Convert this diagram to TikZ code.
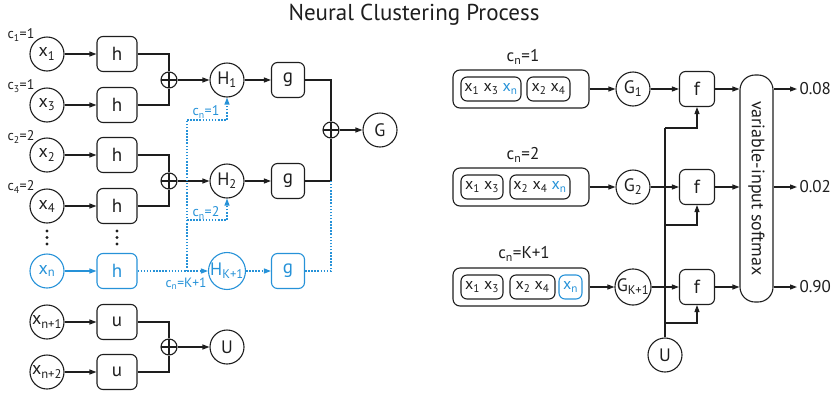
\documentclass[tikz,border=0pt]{standalone}
\usepackage{fontspec}
\setmainfont{PT Sans}
\usetikzlibrary{arrows.meta,calc}
\definecolor{ink}{RGB}{30,30,30}
\definecolor{ncpblue}{RGB}{38,146,216}
\newcommand\sbs[1]{\textsubscript{#1}}
\newcommand\fs[1]{\fontsize{#1}{#1}\selectfont}

\begin{document}
\begin{tikzpicture}[x=1pt,y=-1pt,line width=1.1pt,color=ink,
  circ/.style={circle,draw,minimum size=34pt,inner sep=0pt,font=\fs{18}},
  fbox/.style={draw,rounded corners=6pt,minimum width=40pt,minimum height=35pt,inner sep=0pt,font=\fs{19}},
  gbox/.style={fbox,minimum width=33pt},
  plus/.style={circle,draw,minimum size=16pt,inner sep=0pt,
    path picture={\draw (path picture bounding box.north) -- (path picture bounding box.south)
                        (path picture bounding box.west) -- (path picture bounding box.east);}},
  arr/.style={-{Triangle[length=7pt,width=5pt]}},
  bdot/.style={ncpblue,line width=1.3pt,dash pattern=on 1.5pt off 1.6pt},
  clab/.style={font=\fs{14},inner sep=0pt},
  obox/.style={draw,rounded corners=7pt,minimum width=136pt,minimum height=38pt,inner sep=0pt},
  ibox/.style={draw,rounded corners=6pt,minimum height=24pt,inner sep=0pt,font=\fs{16}},
  outlab/.style={anchor=west,inner sep=2pt,font=\fs{17}}]

\useasboundingbox (0,0) rectangle (834,394);

% title
\node[font=\fs{23}] (title) at (414,15) {Neural Clustering Process};

% ---------- left: encoding the points ----------
\node[circ] (x1) at (47,54) {x\sbs{1}};
\node[circ] (x3) at (47,105) {x\sbs{3}};
\node[circ] (x2) at (47,155) {x\sbs{2}};
\node[circ] (x4) at (47,206) {x\sbs{4}};
\node[circ,ncpblue] (xn) at (47,271) {x\sbs{n}};
\node[circ] (xa) at (47,322) {x\sbs{n+1}};
\node[circ] (xb) at (47,372) {x\sbs{n+2}};

\node[clab] (c1) at (21,35) {c\sbs{1}=1};
\node[clab] (c3) at (21,86) {c\sbs{3}=1};
\node[clab] (c2) at (21,137) {c\sbs{2}=2};
\node[clab] (c4) at (21,187) {c\sbs{4}=2};

\node[fbox] (h1) at (117,54) {h};
\node[fbox] (h3) at (117,105) {h};
\node[fbox] (h2) at (117,155) {h};
\node[fbox] (h4) at (117,206) {h};
\node[fbox,ncpblue] (hn) at (117,271) {h};
\node[fbox] (ua) at (117,322) {u};
\node[fbox] (ub) at (117,372) {u};

\foreach \yy in {231,237.5,244} {
  \fill (47,\yy) circle (1.7pt);
  \fill (117,\yy) circle (1.7pt);
}

\node[plus] (p1) at (169,80) {};
\node[plus] (p2) at (169,181) {};
\node[plus] (pu) at (169,347) {};

\node[circ] (H1) at (227,80) {H\sbs{1}};
\node[circ] (H2) at (227,181) {H\sbs{2}};
\node[circ,ncpblue] (HK) at (227,271) {H\sbs{K+1}};
\node[circ] (U) at (227,347) {U};

\node[gbox] (g1) at (288,80) {g};
\node[gbox] (g2) at (288,181) {g};
\node[gbox,ncpblue] (gK) at (288,271) {g};

\node[plus] (pG) at (331,130) {};
\node[circ] (G) at (380,130) {G};

\foreach \a/\b in {x1/h1,x3/h3,x2/h2,x4/h4,xa/ua,xb/ub}
  \draw[arr] (\a) -- (\b);
\draw[arr,ncpblue] (xn) -- (hn);

\draw (h1.east) -| (p1.north);
\draw (h3.east) -| (p1.south);
\draw (h2.east) -| (p2.north);
\draw (h4.east) -| (p2.south);
\draw (ua.east) -| (pu.north);
\draw (ub.east) -| (pu.south);

\draw[arr] (p1) -- (H1);
\draw[arr] (p2) -- (H2);
\draw[arr] (pu) -- (U);
\draw[arr] (H1) -- (g1);
\draw[arr] (H2) -- (g2);

\draw (g1.east) -| (pG.north);
\draw (g2.east) -| (pG.south);
\draw[arr] (pG) -- (G);

% candidate assignments of the new point
\coordinate (b0) at (187,271);
\coordinate (b1) at (187,120);
\coordinate (b2) at (187,220);
\draw[bdot,arr] (hn) -- (HK);
\draw[bdot,arr] (HK) -- (gK);
\draw[bdot] (b0) -- (b1);
\draw[bdot,arr] (b1) -| (H1.south);
\draw[bdot,arr] (b2) -| (H2.south);
\draw[bdot] (gK.east) -| (pG |- g2);

\node[clab,ncpblue] (l1) at (206,112) {c\sbs{n}=1};
\node[clab,ncpblue] (l2) at (206,213) {c\sbs{n}=2};
\node[clab,ncpblue,font=\fs{13.5}] (lK) at (186,284) {c\sbs{n}=K+1};

% ---------- right: scoring each assignment ----------
\node[font=\fs{17}] (t1) at (523,57) {c\sbs{n}=1};
\node[font=\fs{17}] (t2) at (523,155) {c\sbs{n}=2};
\node[font=\fs{17}] (t3) at (524,254) {c\sbs{n}=K+1};

\node[obox] (o1) at (521,89) {};
\node[obox] (o2) at (521,187) {};
\node[obox] (o3) at (521,287) {};

\node[ibox,minimum width=60pt] (a1) at (491,89) {x\sbs{1} x\sbs{3} \textcolor{ncpblue}{x\sbs{n}}};
\node[ibox,minimum width=43pt] (a2) at (548.5,89) {x\sbs{2} x\sbs{4}};
\node[ibox,minimum width=42pt] (b1n) at (482,187) {x\sbs{1} x\sbs{3}};
\node[ibox,minimum width=60pt] (b2n) at (540,187) {x\sbs{2} x\sbs{4} \textcolor{ncpblue}{x\sbs{n}}};
\node[ibox,minimum width=42pt] (c1n) at (482,287) {x\sbs{1} x\sbs{3}};
\node[ibox,minimum width=45pt] (c2n) at (532.5,287) {x\sbs{2} x\sbs{4}};
\node[ibox,minimum width=23pt,ncpblue] (c3n) at (570.5,287) {x\sbs{n}};

\node[circ] (G1) at (633,89) {G\sbs{1}};
\node[circ] (G2) at (633,187) {G\sbs{2}};
\node[circ] (G3) at (633,287) {G\sbs{K+1}};

\node[fbox,minimum width=35pt] (f1) at (697,89) {f};
\node[fbox,minimum width=35pt] (f2) at (697,187) {f};
\node[fbox,minimum width=35pt] (f3) at (697,287) {f};

\node[circ] (U2) at (665,355) {U};

\node[draw,rounded corners=15pt,minimum width=227pt,minimum height=33pt,inner sep=0pt,
      rotate=-90,font=\fs{18}] (sm) at (756.5,188.5) {variable-input softmax};

\node[outlab] (v1) at (797,89) {0.08};
\node[outlab] (v2) at (797,187) {0.02};
\node[outlab] (v3) at (797,287) {0.90};

\foreach \o/\g/\f/\v in {o1/G1/f1/v1,o2/G2/f2/v2,o3/G3/f3/v3} {
  \draw[arr] (\o) -- (\g);
  \draw[arr] (\g) -- (\f);
  \draw[arr] (\f.east) -- (\f.east -| sm.south);
  \draw[arr] (\v.west -| sm.north) -- (\v.west);
}

\coordinate (j1) at (665,128);
\coordinate (j2) at (665,225);
\coordinate (j3) at (665,323);
\draw (U2.north) -- (j1);
\draw[arr] (j1) -| (f1.south);
\draw[arr] (j2) -| (f2.south);
\draw[arr] (j3) -| (f3.south);

\end{tikzpicture}
\end{document}
